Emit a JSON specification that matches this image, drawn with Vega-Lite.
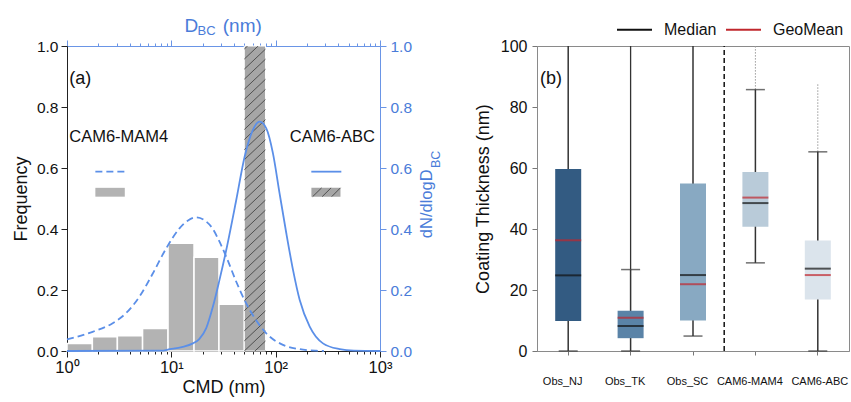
{
  "$schema": "https://vega.github.io/schema/vega-lite/v6.json",
  "padding": {"left": 12, "top": 11, "right": 0, "bottom": 0},
  "config": {
    "font": "Liberation Sans",
    "view": {"stroke": null},
    "axis": {"grid": false, "labelFont": "Liberation Sans", "titleFont": "Liberation Sans", "titleFontWeight": "normal"},
    "text": {"font": "Liberation Sans"}
  },
  "datasets": {
    "hist": [
      {"lo": 1, "hi": 1.75, "freq": 0.025},
      {"lo": 1.75, "hi": 3.04, "freq": 0.047},
      {"lo": 3.04, "hi": 5.3, "freq": 0.05},
      {"lo": 5.3, "hi": 9.3, "freq": 0.074},
      {"lo": 9.3, "hi": 16.5, "freq": 0.353},
      {"lo": 16.5, "hi": 28.6, "freq": 0.307},
      {"lo": 28.6, "hi": 50, "freq": 0.153}
    ],
    "mam4": [
      {"d": 1, "v": 0.038}, {"d": 1.76, "v": 0.063}, {"d": 2.74, "v": 0.091}, {"d": 3.68, "v": 0.124},
      {"d": 4.94, "v": 0.178}, {"d": 6.64, "v": 0.254}, {"d": 8.91, "v": 0.336}, {"d": 11.97, "v": 0.402},
      {"d": 14.45, "v": 0.428}, {"d": 17.3, "v": 0.438}, {"d": 20.9, "v": 0.428}, {"d": 25.0, "v": 0.400},
      {"d": 28.8, "v": 0.36}, {"d": 33.6, "v": 0.309}, {"d": 41.9, "v": 0.227}, {"d": 52.2, "v": 0.156},
      {"d": 65.2, "v": 0.10}, {"d": 81.3, "v": 0.058}, {"d": 117.5, "v": 0.02}, {"d": 170, "v": 0.006},
      {"d": 245, "v": 0.001}, {"d": 290, "v": 0}
    ],
    "abc": [
      {"d": 1, "v": 0}, {"d": 7.94, "v": 0.001}, {"d": 9.7, "v": 0.006}, {"d": 12.6, "v": 0.013},
      {"d": 16.1, "v": 0.025}, {"d": 18.6, "v": 0.04}, {"d": 21.6, "v": 0.075}, {"d": 25.0, "v": 0.145},
      {"d": 28.8, "v": 0.23}, {"d": 33.6, "v": 0.331}, {"d": 41.9, "v": 0.495}, {"d": 50.4, "v": 0.637},
      {"d": 60.5, "v": 0.725}, {"d": 70.1, "v": 0.752}, {"d": 81.3, "v": 0.73}, {"d": 94.2, "v": 0.648},
      {"d": 109, "v": 0.517}, {"d": 126.5, "v": 0.386}, {"d": 146.6, "v": 0.266}, {"d": 170, "v": 0.167},
      {"d": 212, "v": 0.08}, {"d": 284, "v": 0.025}, {"d": 411, "v": 0.006}, {"d": 562, "v": 0.001},
      {"d": 1000, "v": 0}
    ],
    "hatch": [
      {"lo": 50, "hi": 80, "y0": -0.066, "y1": 0.0},
      {"lo": 50, "hi": 80, "y0": -0.033, "y1": 0.033},
      {"lo": 50, "hi": 80, "y0": 0.0, "y1": 0.066},
      {"lo": 50, "hi": 80, "y0": 0.033, "y1": 0.099},
      {"lo": 50, "hi": 80, "y0": 0.066, "y1": 0.132},
      {"lo": 50, "hi": 80, "y0": 0.099, "y1": 0.165},
      {"lo": 50, "hi": 80, "y0": 0.132, "y1": 0.198},
      {"lo": 50, "hi": 80, "y0": 0.165, "y1": 0.231},
      {"lo": 50, "hi": 80, "y0": 0.198, "y1": 0.264},
      {"lo": 50, "hi": 80, "y0": 0.231, "y1": 0.297},
      {"lo": 50, "hi": 80, "y0": 0.264, "y1": 0.330},
      {"lo": 50, "hi": 80, "y0": 0.297, "y1": 0.363},
      {"lo": 50, "hi": 80, "y0": 0.330, "y1": 0.396},
      {"lo": 50, "hi": 80, "y0": 0.363, "y1": 0.429},
      {"lo": 50, "hi": 80, "y0": 0.396, "y1": 0.462},
      {"lo": 50, "hi": 80, "y0": 0.429, "y1": 0.495},
      {"lo": 50, "hi": 80, "y0": 0.462, "y1": 0.528},
      {"lo": 50, "hi": 80, "y0": 0.495, "y1": 0.561},
      {"lo": 50, "hi": 80, "y0": 0.528, "y1": 0.594},
      {"lo": 50, "hi": 80, "y0": 0.561, "y1": 0.627},
      {"lo": 50, "hi": 80, "y0": 0.594, "y1": 0.660},
      {"lo": 50, "hi": 80, "y0": 0.627, "y1": 0.693},
      {"lo": 50, "hi": 80, "y0": 0.660, "y1": 0.726},
      {"lo": 50, "hi": 80, "y0": 0.693, "y1": 0.759},
      {"lo": 50, "hi": 80, "y0": 0.726, "y1": 0.792},
      {"lo": 50, "hi": 80, "y0": 0.759, "y1": 0.825},
      {"lo": 50, "hi": 80, "y0": 0.792, "y1": 0.858},
      {"lo": 50, "hi": 80, "y0": 0.825, "y1": 0.891},
      {"lo": 50, "hi": 80, "y0": 0.858, "y1": 0.924},
      {"lo": 50, "hi": 80, "y0": 0.891, "y1": 0.957},
      {"lo": 50, "hi": 80, "y0": 0.924, "y1": 0.990},
      {"lo": 50, "hi": 80, "y0": 0.957, "y1": 1.023},
      {"lo": 50, "hi": 80, "y0": 0.990, "y1": 1.056}
    ],
    "boxes": [
      {"cat": "Obs_NJ", "q1": 9.8, "q3": 59.7, "median": 24.8, "geomean": 36.3, "wlo": 0, "whi": 100},
      {"cat": "Obs_TK", "q1": 4.2, "q3": 13.2, "median": 8.2, "geomean": 10.9, "wlo": 0, "whi": 26.7},
      {"cat": "Obs_SC", "q1": 10.0, "q3": 54.9, "median": 24.9, "geomean": 21.9, "wlo": 4.9, "whi": 100},
      {"cat": "CAM6-MAM4", "q1": 40.7, "q3": 58.7, "median": 48.5, "geomean": 50.3, "wlo": 28.9, "whi": 85.7},
      {"cat": "CAM6-ABC", "q1": 16.9, "q3": 36.2, "median": 27.0, "geomean": 24.9, "wlo": 0, "whi": 65.3}
    ],
    "caps": [
      {"cat": "Obs_NJ", "v": 0}, {"cat": "Obs_TK", "v": 0}, {"cat": "Obs_TK", "v": 26.7},
      {"cat": "Obs_SC", "v": 4.9}, {"cat": "CAM6-MAM4", "v": 28.9}, {"cat": "CAM6-MAM4", "v": 85.7},
      {"cat": "CAM6-ABC", "v": 0}, {"cat": "CAM6-ABC", "v": 65.3}
    ]
  },
  "spacing": 157,
  "bounds": "flush",
  "hconcat": [
    {
      "width": 313,
      "height": 305,
      "resolve": {"axis": {"x": "independent", "y": "independent"}},
      "layer": [
        {
          "data": {"name": "hist"},
          "mark": {"type": "rect", "fill": "#b3b3b3", "stroke": "#ffffff", "strokeWidth": 1.5},
          "encoding": {
            "x": {"field": "lo", "type": "quantitative", "scale": {"type": "log", "domain": [1, 1000]},
              "axis": {"orient": "bottom", "title": "CMD (nm)", "values": [1,2,3,4,5,6,7,8,9,10,20,30,40,50,60,70,80,90,100,200,300,400,500,600,700,800,900,1000],
                "labelExpr": "datum.value == 1 ? '10⁰' : datum.value == 10 ? '10¹' : datum.value == 100 ? '10²' : datum.value == 1000 ? '10³' : ''",
                "tickSize": {"condition": {"test": "datum.value == 1 || datum.value == 10 || datum.value == 100 || datum.value == 1000", "value": 6}, "value": 3},
                "labelFlush": false, "labelOverlap": false, "labelFontSize": 16.5, "labelPadding": 2, "labelColor": "#111111",
                "domainColor": "#222222", "tickColor": "#222222", "titleFontSize": 18, "titleColor": "#111111", "titlePadding": 3}},
            "x2": {"field": "hi"},
            "y": {"field": "freq", "type": "quantitative", "scale": {"domain": [0, 1]},
              "axis": {"orient": "left", "title": "Frequency", "values": [0, 0.2, 0.4, 0.6, 0.8, 1.0], "format": ".1f",
                "labelFontSize": 15.5, "labelColor": "#111111", "tickSize": 6, "labelPadding": 3,
                "domainColor": "#222222", "tickColor": "#222222", "titleFontSize": 18, "titleColor": "#111111", "titlePadding": 6}},
            "y2": {"datum": 0}
          }
        },
        {
          "data": {"values": [{"lo": 50, "hi": 80, "top": 1}]},
          "mark": {"type": "rect", "fill": "#a6a6a6", "stroke": "#ffffff", "strokeWidth": 1},
          "encoding": {
            "x": {"field": "lo", "type": "quantitative", "scale": {"type": "log", "domain": [1, 1000]}, "axis": null},
            "x2": {"field": "hi"},
            "y": {"field": "top", "type": "quantitative", "scale": {"domain": [0, 1]}, "axis": null},
            "y2": {"datum": 0}
          }
        },
        {
          "data": {"name": "hatch"},
          "mark": {"type": "rule", "clip": true, "stroke": "#2b2b2b", "strokeWidth": 0.7},
          "encoding": {
            "x": {"field": "lo", "type": "quantitative", "scale": {"type": "log", "domain": [1, 1000]}, "axis": null},
            "x2": {"field": "hi"},
            "y": {"field": "y0", "type": "quantitative", "scale": {"domain": [0, 1]}, "axis": null},
            "y2": {"field": "y1"}
          }
        },
        {
          "data": {"name": "mam4"},
          "mark": {"type": "line", "stroke": "#5b8fe8", "strokeWidth": 1.8, "strokeDash": [7, 4], "interpolate": "monotone"},
          "encoding": {
            "x": {"field": "d", "type": "quantitative", "scale": {"type": "log", "domain": [1, 1000]},
              "axis": {"orient": "top", "title": null, "labels": false, "values": [1,2,3,4,5,6,7,8,9,10,20,30,40,50,60,70,80,90,100,200,300,400,500,600,700,800,900,1000],
                "tickSize": {"condition": {"test": "datum.value == 1 || datum.value == 10 || datum.value == 100 || datum.value == 1000", "value": 6}, "value": 3},
                "domainColor": "#6a95e6", "tickColor": "#6a95e6"}},
            "y": {"field": "v", "type": "quantitative", "scale": {"domain": [0, 1]},
              "axis": {"orient": "right", "title": null, "values": [0, 0.2, 0.4, 0.6, 0.8, 1.0], "format": ".1f",
                "labelFontSize": 15.5, "labelColor": "#4a7cd9", "tickSize": 6, "labelPadding": 4,
                "domainColor": "#6a95e6", "tickColor": "#6a95e6"}}
          }
        },
        {
          "data": {"name": "abc"},
          "mark": {"type": "line", "stroke": "#5b8fe8", "strokeWidth": 1.8, "interpolate": "monotone"},
          "encoding": {
            "x": {"field": "d", "type": "quantitative", "scale": {"type": "log", "domain": [1, 1000]}, "axis": null},
            "y": {"field": "v", "type": "quantitative", "scale": {"domain": [0, 1]}, "axis": null}
          }
        },
        {
          "data": {"values": [{"d": 1.87, "v": 0.588}, {"d": 3.63, "v": 0.588}]},
          "mark": {"type": "line", "stroke": "#5b8fe8", "strokeWidth": 1.8, "strokeDash": [7, 4]},
          "encoding": {
            "x": {"field": "d", "type": "quantitative", "scale": {"type": "log", "domain": [1, 1000]}, "axis": null},
            "y": {"field": "v", "type": "quantitative", "scale": {"domain": [0, 1]}, "axis": null}
          }
        },
        {
          "data": {"values": [{"d": 219.6, "v": 0.588}, {"d": 426, "v": 0.588}]},
          "mark": {"type": "line", "stroke": "#5b8fe8", "strokeWidth": 1.8},
          "encoding": {
            "x": {"field": "d", "type": "quantitative", "scale": {"type": "log", "domain": [1, 1000]}, "axis": null},
            "y": {"field": "v", "type": "quantitative", "scale": {"domain": [0, 1]}, "axis": null}
          }
        },
        {
          "data": {"values": [{"lo": 1.87, "hi": 3.58, "b": 0.506, "t": 0.535}]},
          "mark": {"type": "rect", "fill": "#b3b3b3"},
          "encoding": {
            "x": {"field": "lo", "type": "quantitative", "scale": {"type": "log", "domain": [1, 1000]}, "axis": null},
            "x2": {"field": "hi"},
            "y": {"field": "b", "type": "quantitative", "scale": {"domain": [0, 1]}, "axis": null},
            "y2": {"field": "t"}
          }
        },
        {
          "data": {"values": [{"lo": 220, "hi": 418, "b": 0.506, "t": 0.535}]},
          "mark": {"type": "rect", "fill": "#a6a6a6"},
          "encoding": {
            "x": {"field": "lo", "type": "quantitative", "scale": {"type": "log", "domain": [1, 1000]}, "axis": null},
            "x2": {"field": "hi"},
            "y": {"field": "b", "type": "quantitative", "scale": {"domain": [0, 1]}, "axis": null},
            "y2": {"field": "t"}
          }
        },
        {
          "data": {"values": [
            {"lo": 226, "hi": 276, "y0": 0.506, "y1": 0.535},
            {"lo": 279, "hi": 340, "y0": 0.506, "y1": 0.535},
            {"lo": 344, "hi": 418, "y0": 0.506, "y1": 0.535}
          ]},
          "mark": {"type": "rule", "stroke": "#2b2b2b", "strokeWidth": 0.7},
          "encoding": {
            "x": {"field": "lo", "type": "quantitative", "scale": {"type": "log", "domain": [1, 1000]}, "axis": null},
            "x2": {"field": "hi"},
            "y": {"field": "y0", "type": "quantitative", "scale": {"domain": [0, 1]}, "axis": null},
            "y2": {"field": "y1"}
          }
        },
        {
          "data": {"values": [{"d": 1.05, "v": 0.685, "t": "CAM6-MAM4"}, {"d": 136.5, "v": 0.685, "t": "CAM6-ABC"}]},
          "mark": {"type": "text", "align": "left", "baseline": "alphabetic", "fontSize": 16.5, "fill": "#111111"},
          "encoding": {
            "x": {"field": "d", "type": "quantitative", "scale": {"type": "log", "domain": [1, 1000]}, "axis": null},
            "y": {"field": "v", "type": "quantitative", "scale": {"domain": [0, 1]}, "axis": null},
            "text": {"field": "t"}
          }
        },
        {
          "data": {"values": [{"d": 1.05, "v": 0.875, "t": "(a)"}]},
          "mark": {"type": "text", "align": "left", "baseline": "alphabetic", "fontSize": 18, "fill": "#111111"},
          "encoding": {
            "x": {"field": "d", "type": "quantitative", "scale": {"type": "log", "domain": [1, 1000]}, "axis": null},
            "y": {"field": "v", "type": "quantitative", "scale": {"domain": [0, 1]}, "axis": null},
            "text": {"field": "t"}
          }
        },
        {
          "data": {"values": [{"d": 13.4, "v": 1, "t": "D"}, {"d": 31.1, "v": 1, "t": "(nm)"}]},
          "mark": {"type": "text", "align": "left", "baseline": "alphabetic", "fontSize": 19, "fill": "#4a7cd9", "dy": -14},
          "encoding": {
            "x": {"field": "d", "type": "quantitative", "scale": {"type": "log", "domain": [1, 1000]}, "axis": null},
            "y": {"field": "v", "type": "quantitative", "scale": {"domain": [0, 1]}, "axis": null},
            "text": {"field": "t"}
          }
        },
        {
          "data": {"values": [{"d": 17.8, "v": 1, "t": "BC"}]},
          "mark": {"type": "text", "align": "left", "baseline": "alphabetic", "fontSize": 13, "fill": "#4a7cd9", "dy": -11},
          "encoding": {
            "x": {"field": "d", "type": "quantitative", "scale": {"type": "log", "domain": [1, 1000]}, "axis": null},
            "y": {"field": "v", "type": "quantitative", "scale": {"domain": [0, 1]}, "axis": null},
            "text": {"field": "t"}
          }
        },
        {
          "data": {"values": [{"d": 3134, "v": 0.37, "t": "dN/dlogD"}]},
          "mark": {"type": "text", "align": "left", "baseline": "alphabetic", "angle": 270, "fontSize": 16.5, "fill": "#4a7cd9"},
          "encoding": {
            "x": {"field": "d", "type": "quantitative", "scale": {"type": "log", "domain": [1, 1000]}, "axis": null},
            "y": {"field": "v", "type": "quantitative", "scale": {"domain": [0, 1]}, "axis": null},
            "text": {"field": "t"}
          }
        },
        {
          "data": {"values": [{"d": 3741, "v": 0.6, "t": "BC"}]},
          "mark": {"type": "text", "align": "left", "baseline": "alphabetic", "angle": 270, "fontSize": 12.5, "fill": "#4a7cd9"},
          "encoding": {
            "x": {"field": "d", "type": "quantitative", "scale": {"type": "log", "domain": [1, 1000]}, "axis": null},
            "y": {"field": "v", "type": "quantitative", "scale": {"domain": [0, 1]}, "axis": null},
            "text": {"field": "t"}
          }
        }
      ]
    },
    {
      "width": 312,
      "height": 305,
      "view": {"stroke": "#8a8a8a", "strokeWidth": 1},
      "layer": [
        {
          "data": {"name": "boxes"},
          "mark": {"type": "rule", "stroke": "#333333", "strokeWidth": 1.5},
          "encoding": {
            "x": {"field": "cat", "type": "nominal", "sort": null,
              "scale": {"domain": ["Obs_NJ", "Obs_TK", "Obs_SC", "CAM6-MAM4", "CAM6-ABC"], "paddingInner": 0, "paddingOuter": 0},
              "axis": {"title": null, "labelAngle": 0, "labelFontSize": 11, "labelPadding": 20, "tickSize": 4,
                "labelOffset": {"condition": {"test": "datum.value == 'CAM6-ABC'", "value": 2}, "value": -5.5},
                "tickColor": "#777777", "domainColor": "#8a8a8a", "labelColor": "#111111"}},
            "y": {"field": "wlo", "type": "quantitative", "scale": {"domain": [0, 100]},
              "axis": {"title": "Coating Thickness (nm)", "values": [0, 20, 40, 60, 80, 100], "labelFontSize": 16,
                "titleFontSize": 18, "tickSize": 5, "labelPadding": 5, "tickColor": "#777777", "domainColor": "#8a8a8a",
                "labelColor": "#111111", "titleColor": "#111111", "titlePadding": 8}},
            "y2": {"field": "whi"}
          }
        },
        {
          "data": {"values": [{"cat": "Obs_TK", "lo": 26.7, "hi": 100}]},
          "mark": {"type": "rule", "stroke": "#333333", "strokeWidth": 1.3},
          "encoding": {
            "x": {"field": "cat", "type": "nominal"},
            "y": {"field": "lo", "type": "quantitative"},
            "y2": {"field": "hi"}
          }
        },
        {
          "data": {"values": [{"cat": "CAM6-MAM4", "lo": 85.7, "hi": 100}, {"cat": "CAM6-ABC", "lo": 65.3, "hi": 87.7}]},
          "mark": {"type": "rule", "stroke": "#9a9a9a", "strokeWidth": 1, "strokeDash": [1.5, 1.5]},
          "encoding": {
            "x": {"field": "cat", "type": "nominal"},
            "y": {"field": "lo", "type": "quantitative"},
            "y2": {"field": "hi"}
          }
        },
        {
          "data": {"name": "boxes"},
          "mark": {"type": "bar", "size": 26},
          "encoding": {
            "x": {"field": "cat", "type": "nominal"},
            "y": {"field": "q1", "type": "quantitative"},
            "y2": {"field": "q3"},
            "fill": {"field": "cat", "type": "nominal", "legend": null,
              "scale": {"domain": ["Obs_NJ", "Obs_TK", "Obs_SC", "CAM6-MAM4", "CAM6-ABC"], "range": ["#335b82", "#5a83a7", "#88a9c2", "#b9cbd9", "#dbe4ec"]}}
          }
        },
        {
          "data": {"name": "boxes"},
          "mark": {"type": "tick", "color": "#111111", "size": 26, "thickness": 2},
          "encoding": {
            "x": {"field": "cat", "type": "nominal"},
            "y": {"field": "median", "type": "quantitative"}
          }
        },
        {
          "data": {"name": "boxes"},
          "mark": {"type": "tick", "color": "#c0272d", "size": 26, "thickness": 2},
          "encoding": {
            "x": {"field": "cat", "type": "nominal"},
            "y": {"field": "geomean", "type": "quantitative"}
          }
        },
        {
          "data": {"name": "caps"},
          "mark": {"type": "tick", "color": "#333333", "size": 19, "thickness": 1.5},
          "encoding": {
            "x": {"field": "cat", "type": "nominal"},
            "y": {"field": "v", "type": "quantitative"}
          }
        },
        {
          "data": {"values": [{"cat": "CAM6-MAM4"}]},
          "mark": {"type": "rule", "stroke": "#111111", "strokeWidth": 1.5, "strokeDash": [5, 3]},
          "encoding": {
            "x": {"field": "cat", "type": "nominal", "bandPosition": 0},
            "y": {"datum": 0},
            "y2": {"datum": 100}
          }
        },
        {
          "data": {"values": [{"cat": "Obs_NJ", "v": 87.5, "t": "(b)"}]},
          "mark": {"type": "text", "align": "left", "baseline": "alphabetic", "fontSize": 18, "fill": "#111111", "dx": 3},
          "encoding": {
            "x": {"field": "cat", "type": "nominal", "bandPosition": 0},
            "y": {"field": "v", "type": "quantitative"},
            "text": {"field": "t"}
          }
        },
        {
          "data": {"values": [{"cat": "Obs_NJ", "stat": "Median", "v": 0}, {"cat": "Obs_NJ", "stat": "GeoMean", "v": 0}]},
          "mark": {"type": "rule", "strokeWidth": 2},
          "encoding": {
            "x": {"field": "cat", "type": "nominal"},
            "y": {"field": "v", "type": "quantitative"},
            "y2": {"field": "v"},
            "color": {"field": "stat", "type": "nominal",
              "scale": {"domain": ["Median", "GeoMean"], "range": ["#111111", "#c0272d"]},
              "legend": {"title": null, "orient": "none", "legendX": 549, "legendY": -35, "direction": "horizontal",
                "symbolType": "stroke", "symbolSize": 1225, "symbolStrokeWidth": 2, "labelFontSize": 16,
                "labelColor": "#111111", "labelFont": "Liberation Sans", "columnPadding": 5, "labelOffset": 11, "padding": 0}}
          }
        }
      ]
    }
  ]
}
